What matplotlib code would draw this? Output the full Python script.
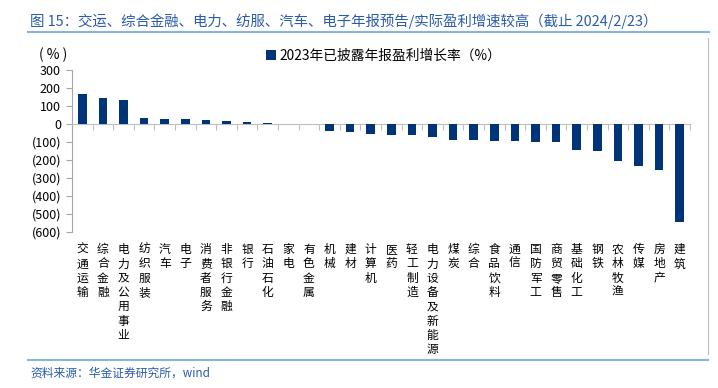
import matplotlib
matplotlib.use("Agg")
import matplotlib.pyplot as plt
import numpy as np

plt.rcParams['font.family'] = ['Noto Sans CJK SC', 'DejaVu Sans']

categories = ["交通运输", "综合金融", "电力及公用事业", "纺织服装", "汽车", "电子", "消费者服务",
              "非银行金融", "银行", "石油石化", "家电", "有色金属", "机械", "建材", "计算机", "医药",
              "轻工制造", "电力设备及新能源", "煤炭", "综合", "食品饮料", "通信", "国防军工", "商贸零售",
              "基础化工", "钢铁", "农林牧渔", "传媒", "房地产", "建筑"]
values = [167, 144, 133, 35, 26, 26, 22, 18, 9, 3, 1, 0.5, -37, -46, -58, -59, -61, -74, -89, -89,
          -95, -97, -101, -101, -146, -150, -208, -233, -256, -547]
yticks = [300, 200, 100, 0, -100, -200, -300, -400, -500, -600]
ytick_labels = ["300", "200", "100", "0", "(100)", "(200)", "(300)", "(400)", "(500)", "(600)"]
legend_label = "2023年已披露年报盈利增长率（%）"
title = "图 15：交运、综合金融、电力、纺服、汽车、电子年报预告/实际盈利增速较高（截止 2024/2/23）"
source = "资料来源：华金证券研究所，wind"

W, H = 718, 388
fig = plt.figure(figsize=(W / 100, H / 100), dpi=100)
ax = fig.add_axes([72 / W, 1 - 232 / H, (690 - 72) / W, (232 - 70) / H])

x = np.arange(len(categories))
ax.bar(x, values, width=0.42, color="#003478", label=legend_label, zorder=3)

ax.set_xlim(-0.5, len(categories) - 0.5)
ax.set_ylim(-600, 300)
ax.set_yticks(yticks)
ax.set_yticklabels(ytick_labels, fontsize=9, color="#000000")
ax.tick_params(axis='y', direction='out', length=4, color="#a6a6a6", pad=4)

for s in ['top', 'right']:
    ax.spines[s].set_visible(False)
ax.spines['left'].set_color("#a6a6a6")
ax.spines['bottom'].set_position(('data', 0))
ax.spines['bottom'].set_color("#bfbfbf")
ax.set_xticks(np.arange(len(categories) + 1) - 0.5)
ax.set_xticklabels([])
ax.tick_params(axis='x', direction='out', length=4, color="#bfbfbf")

sec = ax.secondary_xaxis('bottom')
sec.spines['bottom'].set_visible(False)
sec.set_xticks(x)
sec.set_xticklabels(["\n".join(c) for c in categories], fontsize=8.5, linespacing=1.13,
                    va='top')
sec.tick_params(axis='x', length=0, pad=8)

fig.text(39 / W, 1 - 55 / H, "( % )", fontsize=10, ha='left', va='center')

leg = ax.legend(loc='upper left', bbox_to_anchor=(0.305, 1.165), frameon=False, fontsize=9.9,
                handlelength=0.7, handleheight=0.7, handletextpad=0.3, borderaxespad=0)

fig.text(30 / W, 1 - 21 / H, title, fontsize=10.4, color="#2a5caa", ha='left', va='center')
fig.add_artist(plt.Line2D([28 / W, 709 / W], [1 - 32 / H, 1 - 32 / H], color="#8ab6d6", lw=1.5))
fig.add_artist(plt.Line2D([708 / W, 708 / W], [1 - 38 / H, 1 - 354 / H], color="#bfbfbf", lw=0.8))
fig.add_artist(plt.Line2D([28 / W, 708 / W], [1 - 360 / H, 1 - 360 / H], color="#8ab6d6", lw=1.5))
fig.text(30 / W, 1 - 373 / H, source, fontsize=8.5, color="#2a5caa", ha='left', va='center',
         style='italic')

fig.savefig("out.png", dpi=100)
